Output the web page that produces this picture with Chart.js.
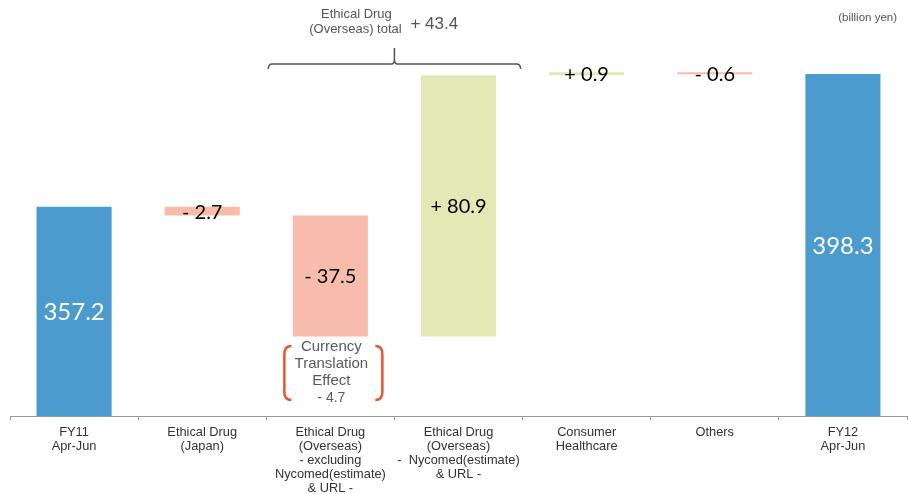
<!DOCTYPE html>
<html>
<head>
<meta charset="utf-8">
<script src="https://cdn.jsdelivr.net/npm/chart.js@4/dist/chart.umd.min.js"></script>
<style>
  body { margin: 0; background: #fff; }
  #wrap { width: 908px; height: 494px; }
</style>
</head>
<body>
<div id="wrap"><canvas id="c"></canvas></div>
<script>
// categories along the x axis (multi-line labels)
var categories = [
  ['FY11', 'Apr-Jun'],
  ['Ethical Drug', '(Japan)'],
  ['Ethical Drug', '(Overseas)', '- excluding', 'Nycomed(estimate)', '& URL -'],
  ['Ethical Drug', '(Overseas)', '-  Nycomed(estimate)', '& URL -'],
  ['Consumer', 'Healthcare'],
  ['Others'],
  ['FY12', 'Apr-Jun']
];
var startValue = 357.2;
var changes = [-2.7, -37.5, 80.9, 0.9, -0.6];
var endValue = 398.3;
var overseasTotal = 43.4;
var currencyEffect = -4.7;

var blue = '#4b9bcf';
var pink = '#f7bcab';
var green = '#e3e9b4';

// build floating bars for the waterfall
var ranges = [[0, startValue]];
var labels = [startValue.toFixed(1)];
var colors = [blue];
var run = startValue;
changes.forEach(function(d){
  ranges.push([run, run + d]);
  labels.push((d > 0 ? '+ ' : '- ') + Math.abs(d).toFixed(1));
  colors.push(d > 0 ? green : pink);
  run = run + d;
});
ranges.push([0, endValue]);
labels.push(endValue.toFixed(1));
colors.push(blue);

var labelPlugin = {
  id: 'valueLabels',
  afterDatasetsDraw: function(chart){
    var ctx = chart.ctx;
    var meta = chart.getDatasetMeta(0);
    ctx.save();
    ctx.textAlign = 'center';
    ctx.textBaseline = 'middle';
    meta.data.forEach(function(bar, i){
      var top = Math.min(bar.y, bar.base);
      var bot = Math.min(Math.max(bar.y, bar.base), chart.chartArea.bottom);
      var cy = (top + bot) / 2;
      if (colors[i] == blue) {
        ctx.fillStyle = '#ffffff';
        ctx.font = '24px Lato';
      } else {
        ctx.fillStyle = '#000000';
        ctx.font = '20px Lato';
      }
      ctx.fillText(labels[i], bar.x, cy + 1);
    });
    ctx.restore();
  }
};

var notesPlugin = {
  id: 'notes',
  afterDraw: function(chart){
    var ctx = chart.ctx;
    var x = chart.scales.x;
    var half = (x.getPixelForValue(1) - x.getPixelForValue(0)) / 2;
    ctx.save();

    // unit
    ctx.fillStyle = '#555555';
    ctx.font = '11.5px "Liberation Sans"';
    ctx.textAlign = 'right';
    ctx.textBaseline = 'middle';
    ctx.fillText('(billion yen)', chart.chartArea.right - 10, 18);

    // overseas total brace
    var bx0 = x.getPixelForValue(2) - half + 2;
    var bx1 = x.getPixelForValue(3) + half - 2;
    var bmid = (bx0 + bx1) / 2;
    var by = 64;
    ctx.strokeStyle = '#555555';
    ctx.lineWidth = 1.5;
    ctx.beginPath();
    ctx.moveTo(bx0, by + 5);
    ctx.quadraticCurveTo(bx0, by, bx0 + 4, by);
    ctx.lineTo(bmid - 3, by);
    ctx.quadraticCurveTo(bmid, by, bmid, by - 5);
    ctx.lineTo(bmid, by - 16);
    ctx.moveTo(bmid, by - 5);
    ctx.quadraticCurveTo(bmid, by, bmid + 3, by);
    ctx.lineTo(bx1 - 4, by);
    ctx.quadraticCurveTo(bx1, by, bx1, by + 5);
    ctx.stroke();

    ctx.textAlign = 'center';
    ctx.font = '13px "Liberation Sans"';
    ctx.fillText('Ethical Drug', bmid - 38, 14);
    ctx.fillText('(Overseas) total', bmid - 39, 29);
    ctx.textAlign = 'left';
    ctx.font = '17px "Liberation Sans"';
    ctx.fillText('+ ' + overseasTotal.toFixed(1), bmid + 16, 24);

    // currency translation effect
    var cx = x.getPixelForValue(2) + 3;
    ctx.strokeStyle = '#e9552f';
    ctx.lineWidth = 2.5;
    var t = 346, b = 400, w = 49;
    ctx.beginPath();
    ctx.moveTo(cx - w + 7, t);
    ctx.quadraticCurveTo(cx - w, t, cx - w, t + 8);
    ctx.lineTo(cx - w, b - 8);
    ctx.quadraticCurveTo(cx - w, b, cx - w + 7, b);
    ctx.moveTo(cx + w - 7, t);
    ctx.quadraticCurveTo(cx + w, t, cx + w, t + 8);
    ctx.lineTo(cx + w, b - 8);
    ctx.quadraticCurveTo(cx + w, b, cx + w - 7, b);
    ctx.stroke();

    ctx.fillStyle = '#595959';
    ctx.textAlign = 'center';
    ctx.font = '15px "Liberation Sans"';
    ctx.fillText('Currency', cx - 2, 347);
    ctx.fillText('Translation', cx - 2, 364);
    ctx.fillText('Effect', cx - 2, 381);
    ctx.font = '14px "Liberation Sans"';
    ctx.fillText('- ' + Math.abs(currencyEffect).toFixed(1), cx - 2, 398);
    ctx.restore();
  }
};

new Chart(document.getElementById('c'), {
  type: 'bar',
  data: {
    labels: categories,
    datasets: [{
      data: ranges,
      backgroundColor: colors,
      borderWidth: 0,
      categoryPercentage: 1,
      barPercentage: 0.586
    }]
  },
  options: {
    responsive: true,
    maintainAspectRatio: false,
    animation: false,
    layout: { padding: { left: 10, right: 1, top: 0, bottom: 0 } },
    plugins: {
      legend: { display: false },
      tooltip: { enabled: false }
    },
    scales: {
      x: {
        grid: {
          drawOnChartArea: false,
          tickLength: 4,
          color: '#999999',
          offset: true
        },
        border: { color: '#999999', width: 1 },
        ticks: {
          color: '#333333',
          padding: 6,
          maxRotation: 0,
          autoSkip: false,
          font: { family: '"Liberation Sans"', size: 12.8, lineHeight: 1.09 }
        },
        afterFit: function(scale){ scale.height = 78; }
      },
      y: {
        display: false,
        min: 292.4,
        max: 421.2
      }
    }
  },
  plugins: [labelPlugin, notesPlugin]
});
</script>
</body>
</html>
